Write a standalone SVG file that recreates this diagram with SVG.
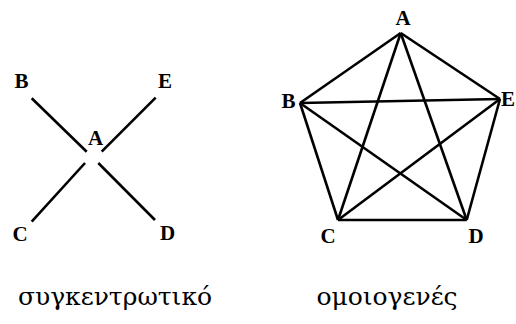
<svg xmlns="http://www.w3.org/2000/svg" width="516" height="324" viewBox="0 0 516 324">
<style>
.e{stroke:#000;stroke-width:2.6;stroke-linecap:butt;fill:none}
.l{font-family:"Liberation Serif","Times New Roman",serif;font-weight:bold;font-size:21px;text-anchor:middle;fill:#000}
.c{font-family:"DejaVu Serif","Noto Serif","Liberation Serif",serif;font-size:25px;text-anchor:middle;fill:#000}
</style>
<rect width="516" height="324" fill="#fff"/>
<g id="edges">
<line class="e" x1="31.7" y1="98.3" x2="86.7" y2="151.7"/>
<line class="e" x1="155.7" y1="97.7" x2="101.7" y2="151.7"/>
<line class="e" x1="85" y1="163" x2="31.7" y2="221.7"/>
<line class="e" x1="98.3" y1="163" x2="155" y2="220"/>
<g id="pentagon-edges">
<line class="e" x1="400.7" y1="33" x2="300" y2="103"/>
<line class="e" x1="400.7" y1="33" x2="500" y2="99"/>
<line class="e" x1="400.7" y1="33" x2="338" y2="220"/>
<line class="e" x1="400.7" y1="33" x2="466.7" y2="220"/>
<line class="e" x1="300" y1="103" x2="500" y2="99"/>
<line class="e" x1="300" y1="103" x2="338" y2="220"/>
<line class="e" x1="300" y1="103" x2="466.7" y2="220"/>
<line class="e" x1="500" y1="99" x2="338" y2="220"/>
<line class="e" x1="500" y1="99" x2="466.7" y2="220"/>
<line class="e" x1="338" y1="220" x2="466.7" y2="220"/>
</g>
</g>
<g id="s-A"><text class="l" x="95.5" y="145">A</text></g>
<g id="s-B"><text class="l" x="21.5" y="88">B</text></g>
<g id="s-E"><text class="l" x="165" y="88">E</text></g>
<g id="s-C"><text class="l" x="20" y="241">C</text></g>
<g id="s-D"><text class="l" x="167.5" y="240">D</text></g>
<g id="p-A"><text class="l" x="403" y="24.5">A</text></g>
<g id="p-B"><text class="l" x="288.5" y="108">B</text></g>
<g id="p-E"><text class="l" x="508" y="106">E</text></g>
<g id="p-C"><text class="l" x="328" y="243">C</text></g>
<g id="p-D"><text class="l" x="476" y="243">D</text></g>
<g id="cap1"><text class="c" x="115" y="305">συγκεντρωτικό</text></g>
<g id="cap2"><text class="c" x="387" y="305">ομοιογενές</text></g>
</svg>
